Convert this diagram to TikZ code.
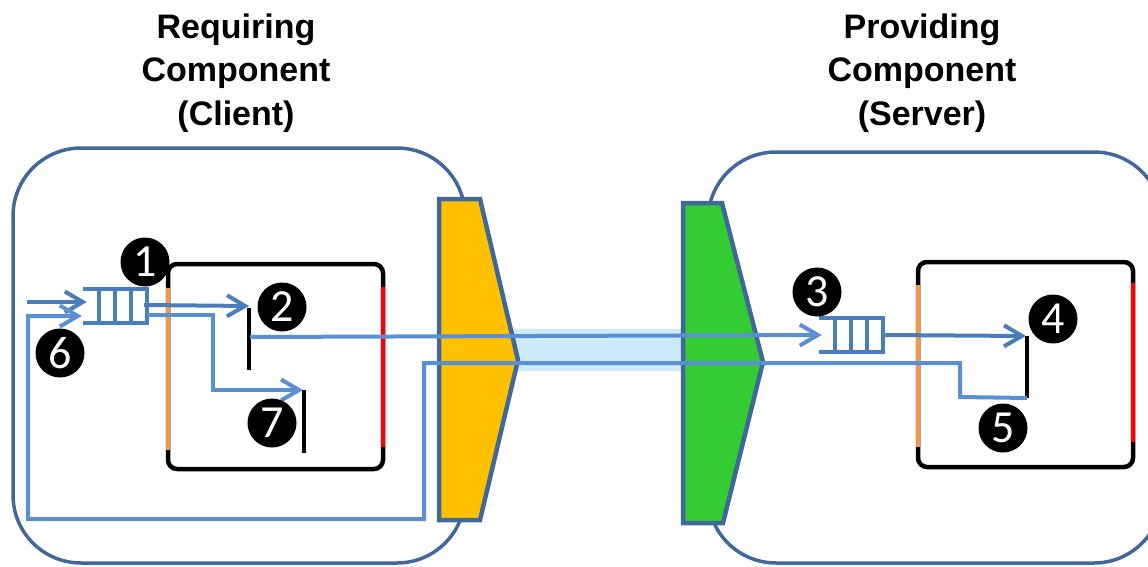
\documentclass[tikz,border=0pt]{standalone}
\usepackage{fontspec}
\setmainfont{Liberation Sans}
\newfontfamily\numfont{Carlito}
\usetikzlibrary{arrows.meta}
\definecolor{framec}{HTML}{41689A}
\definecolor{flowc}{HTML}{5A8FD4}
\definecolor{qbluec}{HTML}{4A7EBB}
\definecolor{goldc}{HTML}{FFC000}
\definecolor{leafc}{HTML}{33CC33}
\definecolor{bandc}{HTML}{CCEBFC}
\definecolor{orangec}{HTML}{F79646}
\definecolor{redc}{HTML}{FF0000}
\tikzset{
  outerbox/.style={draw=framec, line width=3.5pt, rounded corners=68pt},
  trap/.style={draw=framec, line width=4.5pt, line join=miter},
  innerbox/.style={draw=black, line width=4.5pt, rounded corners=9pt},
  edgeorange/.style={draw=orangec, line width=4.5pt},
  edgered/.style={draw=redc, line width=4.5pt},
  bar/.style={draw=black, line width=4pt},
  flow/.style={draw=flowc, line width=4pt, line join=miter},
  flowdark/.style={draw=qbluec, line width=4pt},
  tip/.style={-{Straight Barb[length=18pt,width=21pt]}},
  qline/.style={draw=qbluec, line width=4pt},
  qnode/.style={minimum width=64pt, minimum height=34pt, inner sep=0pt, draw=none},
  num/.style={circle, fill=black, minimum size=49pt, inner sep=0pt, text=white,
              font=\numfont\fontsize{46}{46}\selectfont},
  title/.style={align=center, inner sep=0pt, anchor=base,
                font=\bfseries\fontsize{34}{44}\selectfont},
  queue/.pic={
    \draw[qline] (-32,-17) -- (32,-17) -- (32,17) -- (-32,17);
    \foreach \qx in {-16,0,16} \draw[qline] (\qx,-17) -- (\qx,17);
  }
}
\begin{document}
\begin{tikzpicture}[x=1pt,y=-1pt]
\useasboundingbox (0,0) rectangle (1148,567);
% titles (base anchor = baseline of the last line)
\node[title] (tclient) at (236,126) {Requiring\\Component\\(Client)};
\node[title] (tserver) at (922,126) {Providing\\Component\\(Server)};
% outer components
\draw[outerbox] (13,148) rectangle (465,563);
\draw[outerbox] (708,152) rectangle (1162,563);
% connector band and ports
\fill[bandc] (500,329) rectangle (690,371);
\draw[trap, fill=goldc] (439,199) -- (480,199) -- (518,360) -- (480,520) -- (439,520) -- cycle;
\draw[trap, fill=leafc] (683,203) -- (722,203) -- (763,362) -- (723,523) -- (683,523) -- cycle;
% inner boxes
\draw[innerbox] (168,264) rectangle (383,469);
\draw[edgeorange] (168,288) -- (168,450);
\draw[edgered] (383,287) -- (383,447);
\draw[innerbox] (918,262) rectangle (1133,467);
\draw[edgeorange] (918,285) -- (918,447);
\draw[edgered] (1133,283) -- (1133,442);
% queues
\node[qnode] (q1) at (115,305.5) {};
\pic at (q1) {queue};
\node[qnode] (q3) at (851,335) {};
\pic at (q3) {queue};
% component bars
\coordinate (b2t) at (249,308); \coordinate (b2b) at (249,370);
\coordinate (b7t) at (304,390); \coordinate (b7b) at (304,453);
\coordinate (b4t) at (1027,336); \coordinate (b4b) at (1027,398);
\draw[bar] (b2t) -- (b2b);
\draw[bar] (b7t) -- (b7b);
\draw[bar] (b4t) -- (b4b);
% connectors
\coordinate (src) at (27,302);
\draw[flowdark, tip] (src) -- ([xshift=4pt]q1.west |- src);
\draw[flow, tip] (b4b) -- (960,397) -- (960,363) -- (424,363) -- (424,519) -- (28,519) -- (28,316) -- ([xshift=-1pt]q1.west |- 0,316);
\draw[flowdark, tip] ([xshift=-3pt]q1.east |- 0,305) -- ([yshift=-1pt]b2t |- 0,305);
\draw[flow, tip] (q1.east |- 0,315) -- (213,315) -- (213,390) -- ([xshift=-1pt]b7t);
\draw[flow, tip] (250,337) -- ([xshift=3pt]q3.west);
\draw[flowdark, tip] (q3.east) -- ([xshift=-1pt]b4t);
% numbers
\node[num] (n1) at (145,262) {1};
\node[num] (n2) at (282,307) {2};
\node[num] (n3) at (817,292) {3};
\node[num] (n4) at (1053,319) {4};
\node[num] (n5) at (1003,428) {5};
\node[num] (n6) at (60,353) {6};
\node[num] (n7) at (272,423) {7};
\end{tikzpicture}
\end{document}
